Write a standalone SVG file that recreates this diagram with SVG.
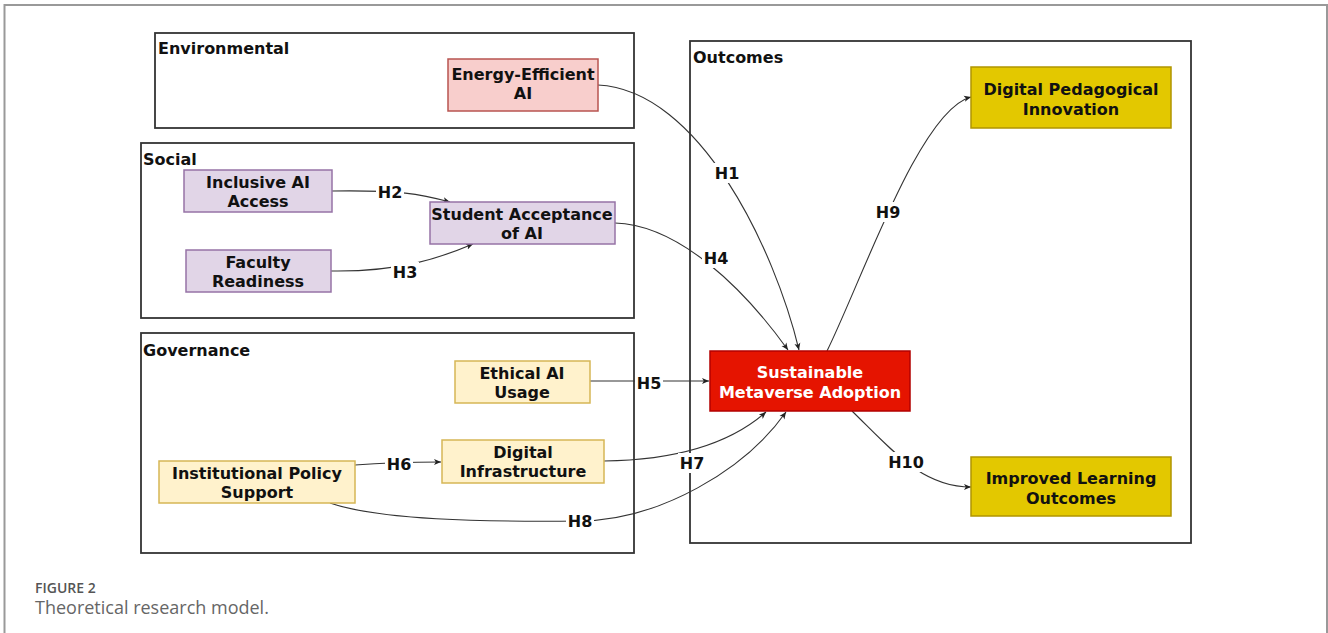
<svg xmlns="http://www.w3.org/2000/svg" width="1328" height="633" viewBox="0 0 1328 633">
<style>
text{font-family:"DejaVu Sans",Verdana,sans-serif;font-weight:bold;font-size:16px;fill:#111}
.grp{fill:#fff;stroke:#333;stroke-width:1.8}
.env{fill:#f8cecc;stroke:#b85450;stroke-width:1.5}
.soc{fill:#e1d5e7;stroke:#9673a6;stroke-width:1.5}
.gov{fill:#fff2cc;stroke:#d6b656;stroke-width:1.5}
.out{fill:#e3c800;stroke:#b09500;stroke-width:1.5}
.core{fill:#e51400;stroke:#b20000;stroke-width:1.5}
.c{text-anchor:middle}
.w{fill:#fff}
.e{fill:none;stroke:#333;stroke-width:1.1;marker-end:url(#a)}
.lb{fill:#fff}
.cap1{font-family:"Open Sans","Noto Sans",sans-serif;font-size:14px;font-weight:600;fill:#555}
.cap2{font-family:"Open Sans","Noto Sans",sans-serif;font-size:18px;font-weight:400;fill:#666}
</style>
<defs>
<marker id="a" markerWidth="8" markerHeight="8" refX="7" refY="4" orient="auto" markerUnits="userSpaceOnUse">
<path d="M0,1 L7,4 L0,7 L1.8,4 Z" fill="#222"/>
</marker>
</defs>
<rect width="1328" height="633" fill="#fff"/>
<g id="frame" fill="none" stroke="#999" stroke-width="2">
<path d="M4.5,633 V5 H1327 V633"/>
</g>
<g id="group-environmental"><rect class="grp" x="155" y="33" width="479" height="95"/><text x="158" y="54">Environmental</text></g>
<g id="group-social"><rect class="grp" x="141" y="143" width="493" height="175"/><text x="143" y="165">Social</text></g>
<g id="group-governance"><rect class="grp" x="141" y="333" width="493" height="220"/><text x="143" y="356">Governance</text></g>
<g id="group-outcomes"><rect class="grp" x="690" y="41" width="501" height="502"/><text x="693" y="63">Outcomes</text></g>

<g id="connectors">
<path class="e" d="M598,85 C700,90 775,250 799,350"/>
<path class="e" d="M615,223 C680,225 745,290 788,350"/>
<path class="e" d="M827,351 C862,280 920,110 971,97"/>
<path class="e" d="M590,381 L709,381"/>
<path class="e" d="M852,411 C892,450 922,487 971,487"/>
<path class="e" d="M604,461 C680,460 732,442 766,412"/>
<path class="e" d="M330,503 C380,520 480,522 580,521 C660,520 745,470 786,412"/>
<path class="e" d="M332,191 C400,190 420,194 450,202"/>
<path class="e" d="M331,271 C400,272 440,258 473,244"/>
<path class="e" d="M355,465 C380,463 400,462 441,462"/>
<g id="edge-labels">
<rect class="lb" x="713" y="163" width="28" height="20"/><text class="c" x="727" y="179">H1</text>
<rect class="lb" x="376" y="182" width="28" height="20"/><text class="c" x="390" y="198">H2</text>
<rect class="lb" x="391" y="262" width="28" height="20"/><text class="c" x="405" y="278">H3</text>
<rect class="lb" x="702" y="248" width="28" height="20"/><text class="c" x="716" y="264">H4</text>
<rect class="lb" x="635" y="373" width="28" height="20"/><text class="c" x="649" y="389">H5</text>
<rect class="lb" x="385" y="454" width="28" height="20"/><text class="c" x="399" y="470">H6</text>
<rect class="lb" x="678" y="453" width="28" height="20"/><text class="c" x="692" y="469">H7</text>
<rect class="lb" x="566" y="511" width="28" height="20"/><text class="c" x="580" y="527">H8</text>
<rect class="lb" x="874" y="202" width="28" height="20"/><text class="c" x="888" y="218">H9</text>
<rect class="lb" x="887" y="452" width="38" height="20"/><text class="c" x="906" y="468">H10</text>
</g>
</g>

<g id="energy-efficient-ai"><rect class="env" x="448" y="59" width="150" height="52"/><text class="c" x="523" y="80">Energy-Efficient</text><text class="c" x="523" y="99">AI</text></g>
<g id="inclusive-ai-access"><rect class="soc" x="184" y="170" width="148" height="42"/><text class="c" x="258" y="188">Inclusive AI</text><text class="c" x="258" y="207">Access</text></g>
<g id="faculty-readiness"><rect class="soc" x="186" y="250" width="145" height="42"/><text class="c" x="258" y="268">Faculty</text><text class="c" x="258" y="287">Readiness</text></g>
<g id="student-acceptance"><rect class="soc" x="430" y="202" width="185" height="42"/><text class="c" x="522" y="220">Student Acceptance</text><text class="c" x="522" y="239">of AI</text></g>
<g id="ethical-ai-usage"><rect class="gov" x="455" y="361" width="135" height="42"/><text class="c" x="522" y="379">Ethical AI</text><text class="c" x="522" y="398">Usage</text></g>
<g id="digital-infrastructure"><rect class="gov" x="442" y="440" width="162" height="43"/><text class="c" x="523" y="458">Digital</text><text class="c" x="523" y="477">Infrastructure</text></g>
<g id="institutional-policy-support"><rect class="gov" x="159" y="461" width="196" height="42"/><text class="c" x="257" y="479">Institutional Policy</text><text class="c" x="257" y="498">Support</text></g>
<g id="sustainable-metaverse-adoption"><rect class="core" x="710" y="351" width="200" height="60"/><text class="c w" x="810" y="378">Sustainable</text><text class="c w" x="810" y="398">Metaverse Adoption</text></g>
<g id="digital-pedagogical-innovation"><rect class="out" x="971" y="67" width="200" height="61"/><text class="c" x="1071" y="95">Digital Pedagogical</text><text class="c" x="1071" y="115">Innovation</text></g>
<g id="improved-learning-outcomes"><rect class="out" x="971" y="457" width="200" height="59"/><text class="c" x="1071" y="484">Improved Learning</text><text class="c" x="1071" y="504">Outcomes</text></g>

<g id="caption">
<text class="cap1" x="35" y="593">FIGURE 2</text>
<text class="cap2" x="35" y="614">Theoretical research model.</text>
</g>
</svg>
